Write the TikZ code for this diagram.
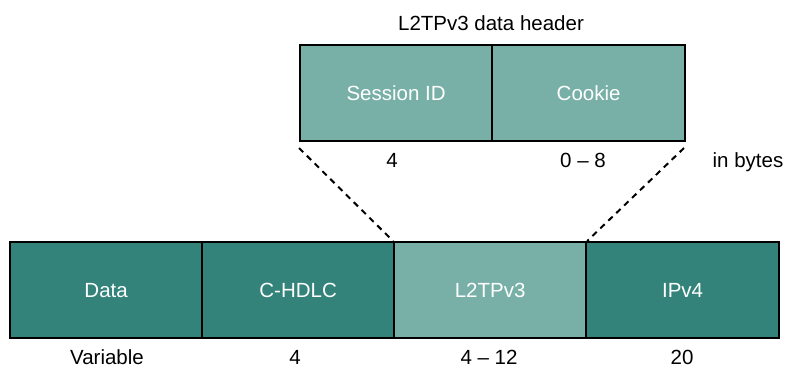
\documentclass[tikz,border=0pt]{standalone}
\usepackage{fontspec}
\setmainfont{Liberation Sans}
\definecolor{darkteal}{HTML}{33837A}
\definecolor{lightteal}{HTML}{78B0A8}
\begin{document}
\begin{tikzpicture}[x=1pt,y=-1pt,
  field/.style={draw=black,line width=2.2pt,minimum height=96pt,inner sep=0pt,text=white,font=\fontsize{20.5}{22}\selectfont,anchor=north west},
  dark/.style={field,fill=darkteal},
  light/.style={field,fill=lightteal},
  lbl/.style={font=\fontsize{20.5}{22}\selectfont,text=black,inner sep=0pt,anchor=base},
  conn/.style={line width=2pt,dash pattern=on 6pt off 5pt}]
\useasboundingbox (0,0) rectangle (787,367);
% bottom row
\node[dark,minimum width=192pt] (data) at (9,241) {Data};
\node[dark,minimum width=192pt] (hdlc) at (201,241) {C-HDLC};
\node[light,minimum width=192pt] (l2tp) at (393,241) {L2TPv3};
\node[dark,minimum width=193pt] (ipv4) at (585,241) {IPv4};
% top row
\node[light,minimum width=192pt] (sess) at (299,44) {Session ID};
\node[light,minimum width=193pt] (cook) at (491,44) {Cookie};
\node[lbl] (title) at (491,30) {L2TPv3 data header};
% size labels
\node[lbl] (sz1) at (107,364) {Variable};
\node[lbl] (sz2) at (295,364) {4};
\node[lbl] (sz3) at (489,364) {4 -- 12};
\node[lbl] (sz4) at (682,364) {20};
\node[lbl] (sz5) at (392,167) {4};
\node[lbl] (sz6) at (583,167) {0 -- 8};
\node[lbl] (unit) at (748,167) {in bytes};
% connectors
\coordinate (c1) at (299,148);
\coordinate (c2) at (684,148);
\draw[conn] (c1) -- (l2tp.north west);
\draw[conn] (c2) -- (l2tp.north east);
\end{tikzpicture}
\end{document}
